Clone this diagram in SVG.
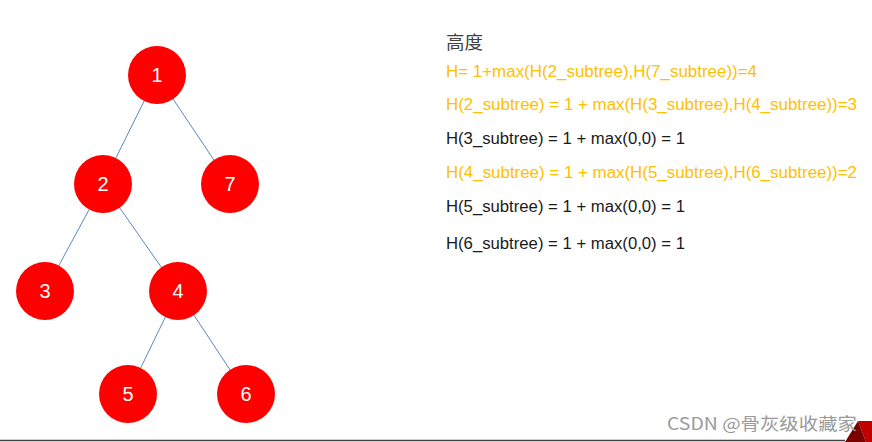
<svg xmlns="http://www.w3.org/2000/svg" width="872" height="442" viewBox="0 0 872 442">
<style>
.node circle{fill:#FF0000;}
.node text{fill:#FFFFFF;font-family:"Liberation Sans","Noto Sans",sans-serif;font-size:20px;text-anchor:middle;}
.edges line{stroke:#5B86C5;stroke-width:1;}
.t{font-family:"Liberation Sans","Noto Sans","Noto Sans CJK SC",sans-serif;font-size:16px;}
.o{fill:#FFC000;}
.k{fill:#1A1A1A;}
</style>
<rect width="872" height="442" fill="#FFFFFF"/>
<g class="edges">
<line x1="157" y1="75" x2="103" y2="184"/>
<line x1="157" y1="75" x2="230" y2="184"/>
<line x1="103" y1="184" x2="45" y2="291"/>
<line x1="103" y1="184" x2="178" y2="291"/>
<line x1="178" y1="291" x2="128" y2="394"/>
<line x1="178" y1="291" x2="246" y2="394"/>
</g>
<g id="n1" class="node"><circle cx="157" cy="75" r="29"/><text x="157" y="82">1</text></g>
<g id="n2" class="node"><circle cx="103" cy="184" r="29"/><text x="103" y="191">2</text></g>
<g id="n7" class="node"><circle cx="230" cy="184" r="29"/><text x="230" y="191">7</text></g>
<g id="n3" class="node"><circle cx="45" cy="291" r="29"/><text x="45" y="298">3</text></g>
<g id="n4" class="node"><circle cx="178" cy="291" r="29"/><text x="178" y="298">4</text></g>
<g id="n5" class="node"><circle cx="128" cy="394" r="29"/><text x="128" y="401">5</text></g>
<g id="n6" class="node"><circle cx="246" cy="394" r="29"/><text x="246" y="401">6</text></g>
<g id="formulas">
<text x="446" y="49" fill="#404040" font-size="18" textLength="37" lengthAdjust="spacingAndGlyphs" font-family="'Noto Sans CJK SC',sans-serif">高度</text>
<text class="t o" x="446" y="77" textLength="311" lengthAdjust="spacingAndGlyphs">H= 1+max(H(2_subtree),H(7_subtree))=4</text>
<text class="t o" x="446" y="110" textLength="411" lengthAdjust="spacingAndGlyphs">H(2_subtree) = 1 + max(H(3_subtree),H(4_subtree))=3</text>
<text class="t k" x="446" y="144" textLength="239" lengthAdjust="spacingAndGlyphs">H(3_subtree) = 1 + max(0,0) = 1</text>
<text class="t o" x="446" y="178" textLength="411" lengthAdjust="spacingAndGlyphs">H(4_subtree) = 1 + max(H(5_subtree),H(6_subtree))=2</text>
<text class="t k" x="446" y="212" textLength="239" lengthAdjust="spacingAndGlyphs">H(5_subtree) = 1 + max(0,0) = 1</text>
<text class="t k" x="446" y="249" textLength="239" lengthAdjust="spacingAndGlyphs">H(6_subtree) = 1 + max(0,0) = 1</text>
</g>
<line x1="0" y1="440.5" x2="845" y2="440.5" stroke="#404040" stroke-width="1.5"/>
<polygon points="858,421 872,421 872,442 866,442" fill="#C00000"/>
<polygon points="845,442 858,421 866,442" fill="#7A0000"/>
<text x="667" y="430" fill="#9A9A9A" font-family="'Noto Sans CJK SC',sans-serif" font-size="17" textLength="190" lengthAdjust="spacingAndGlyphs">CSDN @骨灰级收藏家</text>
</svg>
